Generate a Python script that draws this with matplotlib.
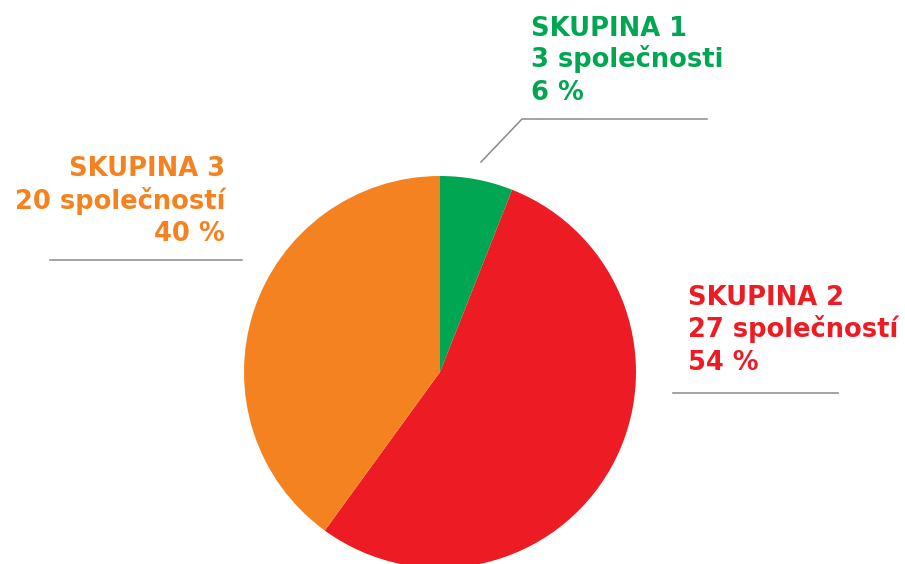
import matplotlib.pyplot as plt

plt.rcParams['font.family'] = ['DejaVu Sans']

groups = ['SKUPINA 1', 'SKUPINA 2', 'SKUPINA 3']
companies = ['3 společnosti', '27 společností', '20 společností']
shares = [6, 54, 40]
colors = ['#00A651', '#ED1C24', '#F58220']

W, H = 905, 564
fig = plt.figure(figsize=(W / 100, H / 100), dpi=100)
ax = fig.add_axes([0, 0, 1, 1])
ax.set_xlim(0, W)
ax.set_ylim(0, H)
ax.set_aspect('equal')
ax.axis('off')


def y(v):
    # pixel rows from the top
    return H - v


ax.pie(shares, colors=colors, startangle=90, counterclock=False,
       center=(440, y(372)), radius=196, frame=True,
       wedgeprops={'linewidth': 0})
ax.set_xlim(0, W)
ax.set_ylim(0, H)
ax.axis('off')

line_col = '#8a8a8a'
# leader lines
ax.plot([481, 522, 707], [y(162), y(119), y(119)], color=line_col, lw=1.1)
ax.plot([50, 242], [y(260), y(260)], color=line_col, lw=1.1)
ax.plot([673, 838], [y(393), y(393)], color=line_col, lw=1.1)

fs = 18.5
# label blocks: x, baselines, alignment
blocks = [
    (531, [36, 67, 100], 'left'),
    (688, [305, 337, 370], 'left'),
    (225, [176, 209, 241], 'right'),
]
for i, (x, bases, ha) in enumerate(blocks):
    lines = [groups[i], companies[i], f'{shares[i]} %']
    for txt, b in zip(lines, bases):
        ax.text(x, y(b), txt, color=colors[i], fontsize=fs, fontweight='bold',
                ha=ha, va='baseline')

plt.savefig('out.png', dpi=100)
